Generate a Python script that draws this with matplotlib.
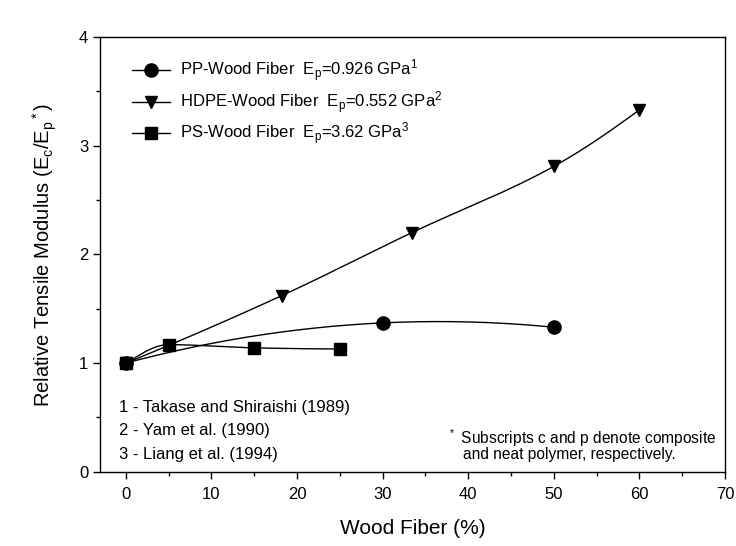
import numpy as np
import matplotlib
matplotlib.use("Agg")
import matplotlib.pyplot as plt
from matplotlib.ticker import MultipleLocator

plt.rcParams['font.family'] = ['Liberation Sans', 'DejaVu Sans']
plt.rcParams['mathtext.fontset'] = 'custom'
plt.rcParams['mathtext.rm'] = 'Liberation Sans'
plt.rcParams['mathtext.it'] = 'Liberation Sans'

# Data
pp_x = [0, 30, 50]
pp_y = [1.0, 1.37, 1.33]
hdpe_x = [0, 18.2, 33.4, 50, 60]
hdpe_y = [1.0, 1.62, 2.20, 2.81, 3.33]
ps_x = [0, 5, 15, 25]
ps_y = [1.0, 1.17, 1.14, 1.13]

labels = ["PP-Wood Fiber  E$_p$=0.926 GPa$^1$",
          "HDPE-Wood Fiber  E$_p$=0.552 GPa$^2$",
          "PS-Wood Fiber  E$_p$=3.62 GPa$^3$"]
refs = ["1 - Takase and Shiraishi (1989)",
        "2 - Yam et al. (1990)",
        "3 - Liang et al. (1994)"]
xticks = [0, 10, 20, 30, 40, 50, 60, 70]
yticks = [0, 1, 2, 3, 4]


def pchip(x, y, n=300):
    x = np.asarray(x, float)
    y = np.asarray(y, float)
    h = np.diff(x)
    delta = np.diff(y) / h
    k = len(x)
    d = np.zeros(k)
    for i in range(1, k - 1):
        if delta[i - 1] * delta[i] > 0:
            w1 = 2 * h[i] + h[i - 1]
            w2 = h[i] + 2 * h[i - 1]
            d[i] = (w1 + w2) / (w1 / delta[i - 1] + w2 / delta[i])
        else:
            d[i] = 0.0

    def end(h0, h1, d0, d1):
        dd = ((2 * h0 + h1) * d0 - h0 * d1) / (h0 + h1)
        if np.sign(dd) != np.sign(d0):
            dd = 0.0
        elif np.sign(d0) != np.sign(d1) and abs(dd) > abs(3 * d0):
            dd = 3 * d0
        return dd

    if k > 2:
        d[0] = end(h[0], h[1], delta[0], delta[1])
        d[-1] = end(h[-1], h[-2], delta[-1], delta[-2])
    else:
        d[:] = delta[0]
    xs = np.linspace(x[0], x[-1], n)
    ys = np.empty_like(xs)
    for j, xv in enumerate(xs):
        i = min(np.searchsorted(x, xv, side='right') - 1, k - 2)
        t = (xv - x[i]) / h[i]
        h00 = 2 * t ** 3 - 3 * t ** 2 + 1
        h10 = t ** 3 - 2 * t ** 2 + t
        h01 = -2 * t ** 3 + 3 * t ** 2
        h11 = t ** 3 - t ** 2
        ys[j] = h00 * y[i] + h10 * h[i] * d[i] + h01 * y[i + 1] + h11 * h[i] * d[i + 1]
    return xs, ys


fig = plt.figure(figsize=(7.36, 5.46), dpi=100)
ax = fig.add_axes([0.136, 0.136, 0.849, 0.796])

# PP: quadratic fit curve
coef = np.polyfit(pp_x, pp_y, 2)
xs = np.linspace(pp_x[0], pp_x[-1], 200)
ax.plot(xs, np.polyval(coef, xs), color='black', lw=1)
ax.plot(pp_x, pp_y, 'o', color='black', ms=9.5)

xs, ys = pchip(hdpe_x, hdpe_y)
ax.plot(xs, ys, color='black', lw=1)
ax.plot(hdpe_x, hdpe_y, 'v', color='black', ms=9)

xs, ys = pchip(ps_x, ps_y)
ax.plot(xs, ys, color='black', lw=1)
ax.plot(ps_x, ps_y, 's', color='black', ms=8.5)

# legend handles
h1, = ax.plot([], [], '-o', color='black', ms=9.5, lw=1)
h2, = ax.plot([], [], '-v', color='black', ms=9, lw=1)
h3, = ax.plot([], [], '-s', color='black', ms=8.5, lw=1)
ax.legend([h1, h2, h3], labels, loc='upper left', bbox_to_anchor=(0.051, 0.952),
          frameon=False, fontsize=12, handlelength=2.3, handletextpad=0.6,
          labelspacing=0.3, borderpad=0, borderaxespad=0)

ax.set_xlim(-3, 70)
ax.set_ylim(0, 4)
ax.set_xticks(xticks)
ax.set_yticks(yticks)
ax.xaxis.set_minor_locator(MultipleLocator(5))
ax.yaxis.set_minor_locator(MultipleLocator(0.5))
ax.tick_params(axis='both', which='major', direction='out', length=5,
               labelsize=12, width=1)
ax.tick_params(axis='x', which='major', pad=6)
ax.tick_params(axis='both', which='minor', direction='out', length=3, width=1)
for s in ax.spines.values():
    s.set_linewidth(1)

ax.set_xlabel("Wood Fiber (%)", fontsize=15, labelpad=12)
ax.set_ylabel("Relative Tensile Modulus (E$_c$/E$_p$$^*$)", fontsize=14.5,
              labelpad=14)

ref_y = [0.147, 0.094, 0.039]
for t, yy in zip(refs, ref_y):
    ax.text(0.030, yy, t, transform=ax.transAxes, fontsize=12,
            va='center', ha='left')

ax.text(0.557, 0.078, "$^*$ Subscripts c and p denote composite",
        transform=ax.transAxes, fontsize=11.2, va='center', ha='left')
ax.text(0.581, 0.039, "and neat polymer, respectively.",
        transform=ax.transAxes, fontsize=11.2, va='center', ha='left')

fig.savefig("out.png", dpi=100)
